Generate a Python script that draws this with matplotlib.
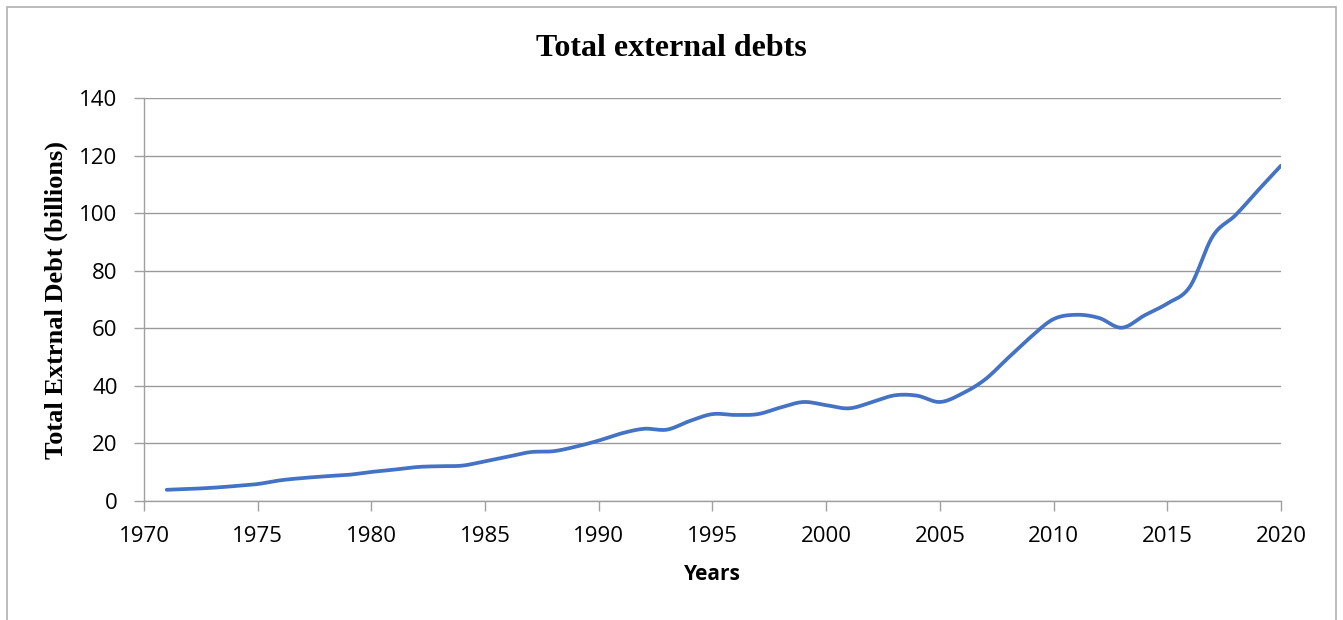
import numpy as np
import matplotlib
matplotlib.use("Agg")
import matplotlib.pyplot as plt
from matplotlib.patches import Rectangle

# --- Data ---
years = list(range(1971, 2021))
debt = [3.9, 4.2, 4.6, 5.2, 5.9, 7.2, 8.0, 8.6, 9.1, 10.1,
        10.9, 11.8, 12.1, 12.3, 13.8, 15.4, 17.0, 17.3, 18.9, 21.0,
        23.5, 25.1, 24.8, 27.8, 30.2, 29.9, 30.2, 32.5, 34.4, 33.3,
        32.2, 34.3, 36.7, 36.6, 34.4, 37.4, 42.3, 49.7, 57.0, 63.2,
        64.7, 63.6, 60.2, 64.5, 68.6, 74.5, 92.0, 99.3, 108.0, 116.5]
xticks = list(range(1970, 2021, 5))
yticks = list(range(0, 141, 20))


def smooth(x, y, n=20):
    # Catmull-Rom style smoothing like Excel's "smoothed line"
    x = np.asarray(x, float)
    y = np.asarray(y, float)
    px = np.concatenate([[x[0]], x, [x[-1]]])
    py = np.concatenate([[y[0]], y, [y[-1]]])
    xs, ys = [], []
    t = np.linspace(0, 1, n, endpoint=False)
    for i in range(1, len(px) - 2):
        for arr, out in ((px, xs), (py, ys)):
            p0, p1, p2, p3 = arr[i - 1], arr[i], arr[i + 1], arr[i + 2]
            c1 = p1 + (p2 - p0) / 6
            c2 = p2 - (p3 - p1) / 6
            out.extend((1 - t) ** 3 * p1 + 3 * (1 - t) ** 2 * t * c1
                       + 3 * (1 - t) * t ** 2 * c2 + t ** 3 * p2)
    xs.append(x[-1])
    ys.append(y[-1])
    return np.array(xs), np.array(ys)


fig = plt.figure(figsize=(13.43, 6.2), dpi=100)
ax = fig.add_axes([0.1072, 0.1919, 0.8466, 0.65])

sx, sy = smooth(years, debt)
ax.plot(sx, sy, color='#4472C4', linewidth=2.7, solid_capstyle='round', zorder=3)

ax.set_xlim(1970, 2020)
ax.set_ylim(0, 140)
ax.set_xticks(xticks)
ax.set_yticks(yticks)
ax.grid(axis='y', color='#9a9a9a', linewidth=1.0)
ax.set_axisbelow(True)

for s in ['top', 'right']:
    ax.spines[s].set_visible(False)
for s in ['left', 'bottom']:
    ax.spines[s].set_color('#a0a0a0')
    ax.spines[s].set_linewidth(1.0)

ax.tick_params(axis='both', colors='#a0a0a0', length=7, width=1.0,
               labelcolor='black', labelsize=16)
ax.tick_params(axis='x', pad=11)
ax.tick_params(axis='y', pad=12)
for lab in ax.get_xticklabels() + ax.get_yticklabels():
    lab.set_family('Open Sans')

ax.set_xlabel('Years', fontsize=15, fontweight='bold', family='Open Sans', labelpad=12)
ax.set_ylabel('Total Extrnal Debt (billions)', fontsize=19, fontweight='bold',
              family='Liberation Serif', labelpad=8)
fig.text(0.5, 0.922, 'Total external debts', ha='center', va='center',
         fontsize=23, fontweight='bold', family='Liberation Serif')

# outer chart frame
fig.patches.append(Rectangle((7 / 1343, -0.05), 1329 / 1343, 1.05 - 7 / 620,
                             transform=fig.transFigure, fill=False,
                             edgecolor='#b0b0b0', linewidth=1.2))

plt.savefig('out.png', dpi=100)
